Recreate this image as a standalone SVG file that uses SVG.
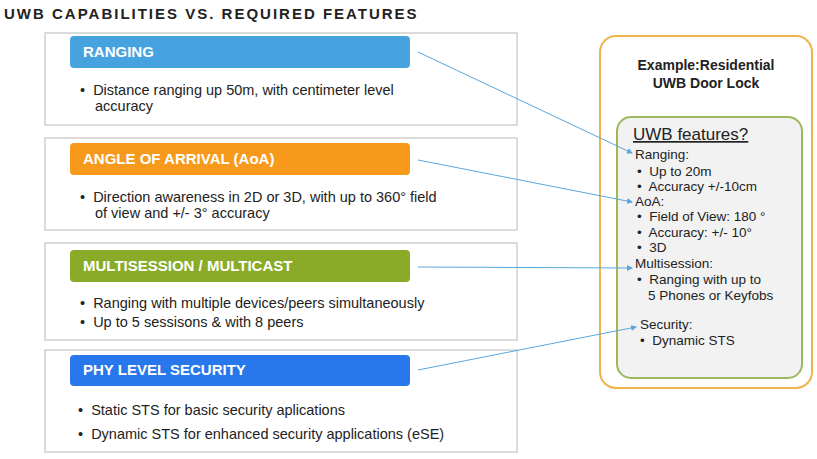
<svg xmlns="http://www.w3.org/2000/svg" width="817" height="459" viewBox="0 0 817 459" xml:space="preserve">
<style>
text{font-family:"Liberation Sans",Arial,sans-serif;white-space:pre}
.panel{fill:#fff;stroke:#d0d0d0;stroke-width:1.5}
.hd{font-size:15px;font-weight:bold;fill:#fff}
.b{font-size:14.5px;fill:#222}
.r{font-size:13.5px;fill:#222}
.c{stroke:#5aa6dc;stroke-width:1;fill:none;marker-end:url(#a)}
</style>
<defs><marker id="a" markerWidth="6" markerHeight="6" refX="5" refY="3" orient="auto"><path d="M0,0L6,3L0,6z" fill="#5aa6dc"/></marker></defs>
<rect width="817" height="459" fill="#fff"/>
<text x="4" y="19" font-size="15" font-weight="bold" fill="#222" letter-spacing="2">UWB CAPABILITIES VS. REQUIRED FEATURES</text>
<g id="ranging"><rect class="panel" x="45" y="33" width="472" height="92"/><rect x="70" y="36" width="340" height="32" rx="4" fill="#47a3e0"/><text class="hd" x="83" y="57">RANGING</text>
<text class="b" x="80" y="95">•  Distance ranging up 50m, with centimeter level</text><text class="b" x="95" y="111">accuracy</text></g>
<g id="aoa"><rect class="panel" x="45" y="138" width="472" height="92"/><rect x="70" y="143" width="340" height="32" rx="4" fill="#f79a1c"/><text class="hd" x="83" y="164">ANGLE OF ARRIVAL (AoA)</text>
<text class="b" x="80" y="202">•  Direction awareness in 2D or 3D, with up to 360° field</text><text class="b" x="95" y="218">of view and +/- 3° accuracy</text></g>
<g id="multi"><rect class="panel" x="45" y="243" width="472" height="97"/><rect x="70" y="250" width="340" height="32" rx="4" fill="#8aab28"/><text class="hd" x="83" y="271">MULTISESSION / MULTICAST</text>
<text class="b" x="80" y="308">•  Ranging with multiple devices/peers simultaneously</text><text class="b" x="80" y="327">•  Up to 5 sessisons &amp; with 8 peers</text></g>
<g id="security"><rect class="panel" x="45" y="350" width="472" height="102"/><rect x="70" y="355" width="340" height="31" rx="4" fill="#2878ec"/><text class="hd" x="83" y="375">PHY LEVEL SECURITY</text>
<text class="b" x="78" y="415">•  Static STS for basic security aplications</text><text class="b" x="78" y="439">•  Dynamic STS for enhanced security applications (eSE)</text></g>
<g id="example"><rect x="600" y="36" width="212" height="352" rx="16" fill="#fff" stroke="#f0b24a" stroke-width="2"/>
<text x="706" y="70" text-anchor="middle" font-size="14" font-weight="bold" fill="#222">Example:Residential</text>
<text x="706" y="88" text-anchor="middle" font-size="14" font-weight="bold" fill="#222">UWB Door Lock</text>
<rect x="617" y="117" width="185" height="261" rx="14" fill="#f2f2f2" stroke="#9cb85c" stroke-width="2"/>
<text x="633" y="140" font-size="17" fill="#222" text-decoration="underline">UWB features?</text>
<text class="r" x="635" y="159">Ranging:</text>
<text class="r" x="637" y="176">•  Up to 20m</text>
<text class="r" x="637" y="191">•  Accuracy +/-10cm</text>
<text class="r" x="635" y="206">AoA:</text>
<text class="r" x="637" y="221">•  Field of View: 180 °</text>
<text class="r" x="637" y="237">•  Accuracy: +/- 10°</text>
<text class="r" x="637" y="252">•  3D</text>
<text class="r" x="635" y="268">Multisession:</text>
<text class="r" x="637" y="284">•  Ranging with up to</text>
<text class="r" x="648" y="300">5 Phones or Keyfobs</text>
<text class="r" x="640" y="329">Security:</text>
<text class="r" x="640" y="345">•  Dynamic STS</text></g>
<g id="connectors">
<path class="c" d="M418,52L632,153"/>
<path class="c" d="M418,160L632,202"/>
<path class="c" d="M418,267L632,268"/>
<path class="c" d="M418,370L636,327"/>
</g>
</svg>
